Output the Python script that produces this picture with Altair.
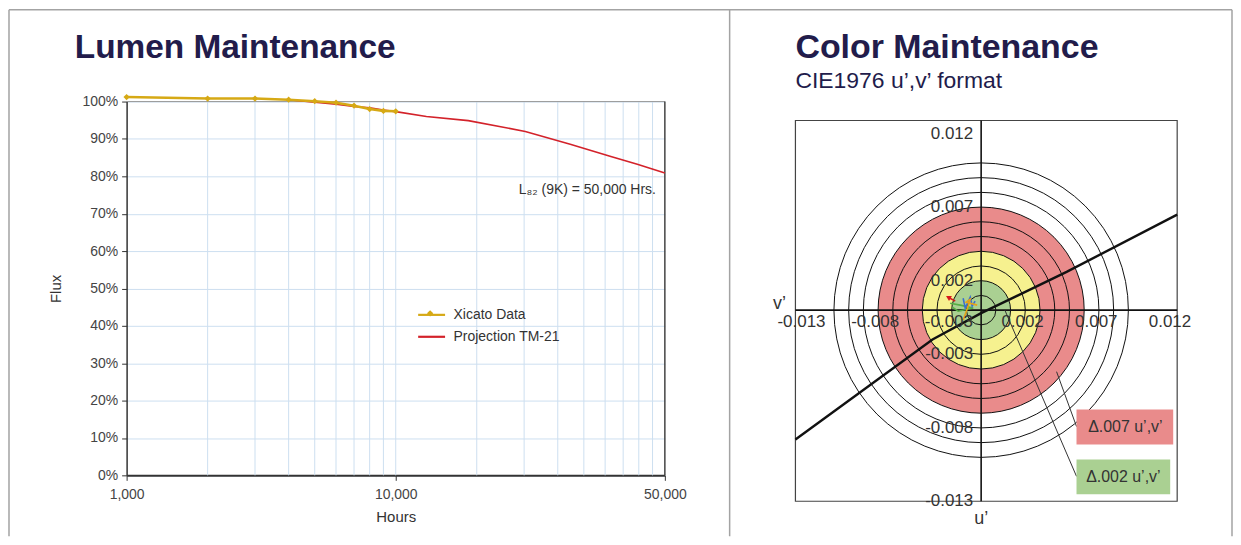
import json
import altair as alt
import pandas as pd

FONT = "Liberation Sans"
TITLE_COLOR = "#221c4b"
GRID = "#cddff0"
FRAME = "#a3a3a3"

# ---------------- Lumen maintenance data ----------------
xicato_hours = [1000, 2000, 3000, 4000, 5000, 6000, 7000, 8000, 9000, 10000]
xicato_flux = [101.2, 100.8, 100.8, 100.5, 100.1, 99.7, 98.9, 98.0, 97.5, 97.4]

proj_hours = [4000, 5000, 6000, 7000, 8000, 9000, 10000, 13000, 18600, 30300,
              44500, 63000, 79000, 100000]
proj_flux = [100.5, 99.8, 99.3, 98.7, 98.3, 97.7, 97.3, 96.0, 94.9, 92.0,
             88.6, 85.3, 83.2, 80.9]

series_names = ["Xicato Data", "Projection TM-21"]
series_colors = ["#d6a915", "#d3222a"]

x_domain = [1000, 100000]
x_tick_values = [1000, 10000, 100000]
x_tick_labels = ["1,000", "10,000", "50,000"]
grid_hours = [2000, 3000, 4000, 5000, 6000, 7000, 8000, 9000, 10000,
              20000, 30000, 40000, 50000, 60000, 70000, 80000, 90000]
y_domain = [0, 100]
y_tick_values = [0, 10, 20, 30, 40, 50, 60, 70, 80, 90, 100]

left_title = "Lumen Maintenance"
annotation = "L\u2088\u2082 (9K) = 50,000 Hrs."

# ---------------- Color maintenance data ----------------
uv_domain_u = [-0.0126, 0.0133]
uv_domain_v = [-0.013, 0.0129]
u_ticks = [-0.013, -0.008, -0.003, 0.002, 0.007, 0.012]
u_tick_labels = ["-0.013", "-0.008", "-0.003", "0.002", "0.007", "0.012"]
v_ticks = [0.012, 0.007, 0.002, -0.003, -0.008, -0.013]
v_tick_labels = ["0.012", "0.007", "0.002", "-0.003", "-0.008", "-0.013"]

zone_names = ["zone .007", "zone .004", "zone .002"]
zone_radii = [0.007, 0.004, 0.002]
zone_colors = ["#e98b8b", "#f6f18f", "#aad092"]
ring_radii = [0.001, 0.002, 0.003, 0.004, 0.005, 0.006, 0.007, 0.008, 0.009, 0.010]

locus_u = [-0.0126, -0.0033, 0.0, 0.0058, 0.0133]
locus_v = [-0.0088, -0.0020, -0.0002, 0.0026, 0.0065]

shift_series = ["red", "green", "blue", "orange"]
shift_colors = ["#d7191c", "#57ad45", "#3a6fd0", "#e6a317"]
shift_red_u = [-0.00176, -0.00223]
shift_red_v = [0.00061, 0.00088]
shift_green_u = [-0.0021, -0.00142, -0.00054, -0.00156, -0.00196]
shift_green_v = [0.00047, 0.00034, 0.00014, -0.00007, 0.0002]
shift_blue_u = [-0.00122, -0.00108, -0.00074, -0.00061, -0.00041]
shift_blue_v = [0.00081, 0.00014, 0.00088, 0.00027, 0.00061]
shift_orange_u = [-0.00122, -0.00095, -0.00074, -0.00102, -0.00027]
shift_orange_v = [-0.00068, 0.00007, 0.00074, 0.00054, 0.00034]

right_title = "Color Maintenance"
right_subtitle = "CIE1976 u\u2019,v\u2019 format"
box_labels = ["\u0394.007 u\u2019,v\u2019", "\u0394.002 u\u2019,v\u2019"]

# ---------------- Left panel ----------------
W_L, H_L = 540, 375
one = pd.DataFrame({"k": [0]})

xs = alt.Scale(type="log", domain=x_domain, nice=False)
ys = alt.Scale(domain=y_domain, nice=False)
label_expr = f"{json.dumps(x_tick_labels)}[indexof({json.dumps(x_tick_values)}, datum.value)]"
x_axis = alt.Axis(values=x_tick_values, labelExpr=label_expr, title="Hours", grid=False,
                  tickSize=5, tickColor="#333", domainColor="#333", domainWidth=2,
                  labelFontSize=14, labelColor="#444", labelPadding=7, labelFlush=False,
                  titleFontSize=15, titleFontWeight="normal", titleColor="#333", titlePadding=8)
y_axis = alt.Axis(values=y_tick_values, labelExpr="datum.value + '%'", title="Flux",
                  grid=True, gridColor=GRID, gridWidth=1, tickSize=5, tickColor="#333",
                  domainColor="#333", domainWidth=1.5, labelFontSize=14, labelColor="#444",
                  labelPadding=4, titleFontSize=15, titleFontWeight="normal",
                  titleColor="#333", titlePadding=19)
LEG_X, LEG_Y, LEG_SYM = 291, 199, 27
color_enc = alt.Color("series:N", scale=alt.Scale(domain=series_names, range=series_colors),
                      legend=alt.Legend(orient="none", legendX=LEG_X, legendY=LEG_Y, title=None,
                                        symbolType="stroke", symbolSize=LEG_SYM * LEG_SYM,
                                        symbolStrokeWidth=2.2,
                                        labelFontSize=14, labelColor="#333", labelOffset=7,
                                        rowPadding=0, padding=0))

grid_df = pd.DataFrame({"hours": grid_hours})
proj_df = pd.DataFrame({"hours": proj_hours, "flux": proj_flux, "series": series_names[1]})
xic_df = pd.DataFrame({"hours": xicato_hours, "flux": xicato_flux, "series": series_names[0]})

grid_layer = alt.Chart(grid_df).mark_rule(color=GRID, strokeWidth=1).encode(
    x=alt.X("hours:Q", scale=xs, axis=x_axis))
proj_layer = alt.Chart(proj_df).mark_line(strokeWidth=1.6).encode(
    x=alt.X("hours:Q", scale=xs, axis=x_axis),
    y=alt.Y("flux:Q", scale=ys, axis=y_axis),
    color=color_enc)
xic_layer = alt.Chart(xic_df).mark_line(
    strokeWidth=2.6,
    point=alt.OverlayMarkDef(shape="diamond", size=40, filled=True, opacity=1)).encode(
    x=alt.X("hours:Q", scale=xs, axis=x_axis),
    y=alt.Y("flux:Q", scale=ys, axis=y_axis),
    color=color_enc)
# marker drawn on the legend's Xicato swatch
leg_marker = alt.Chart(one).mark_point(shape="diamond", filled=True, size=40, opacity=1,
                                       color=series_colors[0]).encode(
    x=alt.value(LEG_X + LEG_SYM / 2), y=alt.value(LEG_Y + LEG_SYM / 2))
top_border = alt.Chart(one).mark_rule(color="#9a9a9a", strokeWidth=1).encode(
    x=alt.value(0), x2=alt.value(W_L), y=alt.value(0))
right_border = alt.Chart(one).mark_rule(color="#444", strokeWidth=1.5).encode(
    x=alt.value(W_L), y=alt.value(0), y2=alt.value(H_L))
annot = alt.Chart(pd.DataFrame({"t": [annotation]})).mark_text(
    align="right", baseline="alphabetic", fontSize=14, color="#333").encode(
    text="t:N", x=alt.value(531), y=alt.value(93))
ltitle = alt.Chart(pd.DataFrame({"t": [left_title]})).mark_text(
    align="left", baseline="alphabetic", fontSize=33.5, fontWeight="bold",
    color=TITLE_COLOR).encode(text="t:N", x=alt.value(-52), y=alt.value(-44))

# page frame
fr_left = alt.Chart(one).mark_rule(color=FRAME, strokeWidth=1.5).encode(
    x=alt.value(-118), y=alt.value(-92), y2=alt.value(436))
fr_top = alt.Chart(one).mark_rule(color=FRAME, strokeWidth=1.5).encode(
    x=alt.value(-118), x2=alt.value(1109), y=alt.value(-92))
fr_mid = alt.Chart(one).mark_rule(color=FRAME, strokeWidth=1.5).encode(
    x=alt.value(605), y=alt.value(-92), y2=alt.value(436))
fr_right = alt.Chart(one).mark_rule(color=FRAME, strokeWidth=1.5).encode(
    x=alt.value(1109), y=alt.value(-92), y2=alt.value(436))

left = alt.layer(grid_layer, top_border, right_border, proj_layer, xic_layer, leg_marker,
                 annot, ltitle, fr_left, fr_top, fr_mid, fr_right).properties(width=W_L, height=H_L)

# ---------------- Right panel ----------------
W_R, H_R, TOP_R = 383, 401, 19
xr = alt.Scale(domain=uv_domain_u, nice=False, zero=False)
yr = alt.Scale(domain=uv_domain_v, range=[H_R, TOP_R], nice=False, zero=False)
R_MAX = 0.0134
K = 14770.0
size_scale = alt.Scale(type="pow", exponent=2, domain=[0, R_MAX],
                       range=[0, (2 * R_MAX * K) ** 2])

def X(f):
    return alt.X(f, scale=xr, axis=None)

def Y(f):
    return alt.Y(f, scale=yr, axis=None)

zones_df = pd.DataFrame({"zone": zone_names, "r": zone_radii, "u": 0.0, "v": 0.0})
rings_df = pd.DataFrame({"r": ring_radii, "u": 0.0, "v": 0.0})

zones = alt.Chart(zones_df).mark_point(shape="circle", filled=True, opacity=1, strokeWidth=0).encode(
    x=X("u:Q"), y=Y("v:Q"),
    size=alt.Size("r:Q", scale=size_scale, legend=None),
    fill=alt.Fill("zone:N", scale=alt.Scale(domain=zone_names, range=zone_colors), legend=None),
    order=alt.Order("r:Q", sort="descending"))
rings = alt.Chart(rings_df).mark_point(shape="circle", filled=False, opacity=1,
                                       color="#111", strokeWidth=1).encode(
    x=X("u:Q"), y=Y("v:Q"), size=alt.Size("r:Q", scale=size_scale, legend=None))

frame_df = pd.DataFrame({"u": [uv_domain_u[0]], "u2": [uv_domain_u[1]],
                         "v": [uv_domain_v[0]], "v2": [uv_domain_v[1]], "z": [0.0]})
frame = alt.Chart(frame_df).mark_rect(fillOpacity=0, stroke="#444", strokeWidth=1.2).encode(
    x=X("u:Q"), x2="u2:Q", y=Y("v:Q"), y2="v2:Q")
vaxis = alt.Chart(frame_df).mark_rule(color="#111", strokeWidth=1.6).encode(
    x=X("z:Q"), y=Y("v:Q"), y2="v2:Q")
haxis = alt.Chart(frame_df).mark_rule(color="#111", strokeWidth=1.6).encode(
    y=Y("z:Q"), x=X("u:Q"), x2="u2:Q")

locus_df = pd.DataFrame({"u": locus_u, "v": locus_v, "i": range(len(locus_u))})
locus = alt.Chart(locus_df).mark_line(color="#111", strokeWidth=2.4).encode(
    x=X("u:Q"), y=Y("v:Q"), order="i:Q")

rows = []
for name, us, vs in [("red", shift_red_u, shift_red_v), ("green", shift_green_u, shift_green_v),
                     ("blue", shift_blue_u, shift_blue_v), ("orange", shift_orange_u, shift_orange_v)]:
    for i, (a, b) in enumerate(zip(us, vs)):
        rows.append({"s": name, "u": a, "v": b, "i": i})
shift_df = pd.DataFrame(rows)
shift_stroke = alt.Stroke("s:N", scale=alt.Scale(domain=shift_series, range=shift_colors), legend=None)
shifts = alt.Chart(shift_df).mark_line(strokeWidth=1.6).encode(
    x=X("u:Q"), y=Y("v:Q"), stroke=shift_stroke, detail="s:N", order="i:Q")
arrow = alt.Chart(pd.DataFrame({"u": [shift_red_u[-1]], "v": [shift_red_v[-1]]})).mark_point(
    shape="triangle-left", filled=True, size=35, angle=30, color=shift_colors[0], opacity=1).encode(
    x=X("u:Q"), y=Y("v:Q"))

vlab_df = pd.DataFrame({"v": v_ticks, "lab": v_tick_labels, "u": 0.0})
ulab_df = pd.DataFrame({"u": u_ticks, "lab": u_tick_labels, "v": 0.0})
vlabs = alt.Chart(vlab_df).mark_text(align="right", baseline="middle", dx=-8, fontSize=17,
                                      color="#333").encode(x=X("u:Q"), y=Y("v:Q"), text="lab:N")
ulabs = alt.Chart(ulab_df).mark_text(align="center", baseline="middle", dx=12, dy=12, fontSize=17,
                                      color="#333").encode(x=X("u:Q"), y=Y("v:Q"), text="lab:N")
vname = alt.Chart(pd.DataFrame({"u": [uv_domain_u[0]], "v": [0.0], "t": ["v\u2019"]})).mark_text(
    align="center", baseline="middle", dx=-16, dy=-6, fontSize=18, color="#333").encode(
    x=X("u:Q"), y=Y("v:Q"), text="t:N")
uname = alt.Chart(pd.DataFrame({"u": [0.0], "v": [uv_domain_v[0]], "t": ["u\u2019"]})).mark_text(
    align="center", baseline="middle", dy=18, fontSize=18, color="#333").encode(
    x=X("u:Q"), y=Y("v:Q"), text="t:N")

lead1 = alt.Chart(one).mark_rule(color="#333", strokeWidth=1).encode(
    x=alt.value(262), y=alt.value(271), x2=alt.value(282), y2=alt.value(326))
lead2 = alt.Chart(one).mark_rule(color="#333", strokeWidth=1).encode(
    x=alt.value(210), y=alt.value(209), x2=alt.value(282), y2=alt.value(376))
box1 = alt.Chart(one).mark_rect(color=zone_colors[0]).encode(
    x=alt.value(282), x2=alt.value(379), y=alt.value(309), y2=alt.value(344))
box2 = alt.Chart(one).mark_rect(color=zone_colors[2]).encode(
    x=alt.value(282), x2=alt.value(376), y=alt.value(359), y2=alt.value(394))
btxt1 = alt.Chart(pd.DataFrame({"t": [box_labels[0]]})).mark_text(
    align="center", baseline="middle", fontSize=16, color="#333").encode(
    text="t:N", x=alt.value(331), y=alt.value(327))
btxt2 = alt.Chart(pd.DataFrame({"t": [box_labels[1]]})).mark_text(
    align="center", baseline="middle", fontSize=16, color="#333").encode(
    text="t:N", x=alt.value(329), y=alt.value(377))

rtitle = alt.Chart(pd.DataFrame({"t": [right_title]})).mark_text(
    align="left", baseline="alphabetic", fontSize=34, fontWeight="bold",
    color=TITLE_COLOR).encode(text="t:N", x=alt.value(0), y=alt.value(-44))
rsub = alt.Chart(pd.DataFrame({"t": [right_subtitle]})).mark_text(
    align="left", baseline="alphabetic", fontSize=23, color=TITLE_COLOR).encode(
    text="t:N", x=alt.value(0), y=alt.value(-14))

right = alt.layer(zones, rings, frame, vaxis, haxis, locus, shifts, arrow, vlabs, ulabs,
                  vname, uname, lead1, lead2, box1, box2, btxt1, btxt2, rtitle, rsub
                  ).properties(width=W_R, height=H_R)

chart = alt.hconcat(left, right, spacing=131, bounds="flush").resolve_scale(
    color="independent", fill="independent", stroke="independent", size="independent"
).properties(padding=0, background="white").configure(font=FONT).configure_view(
    stroke="transparent", strokeWidth=0)

chart.save("out.html", embed_options={"renderer": "svg", "actions": False})
